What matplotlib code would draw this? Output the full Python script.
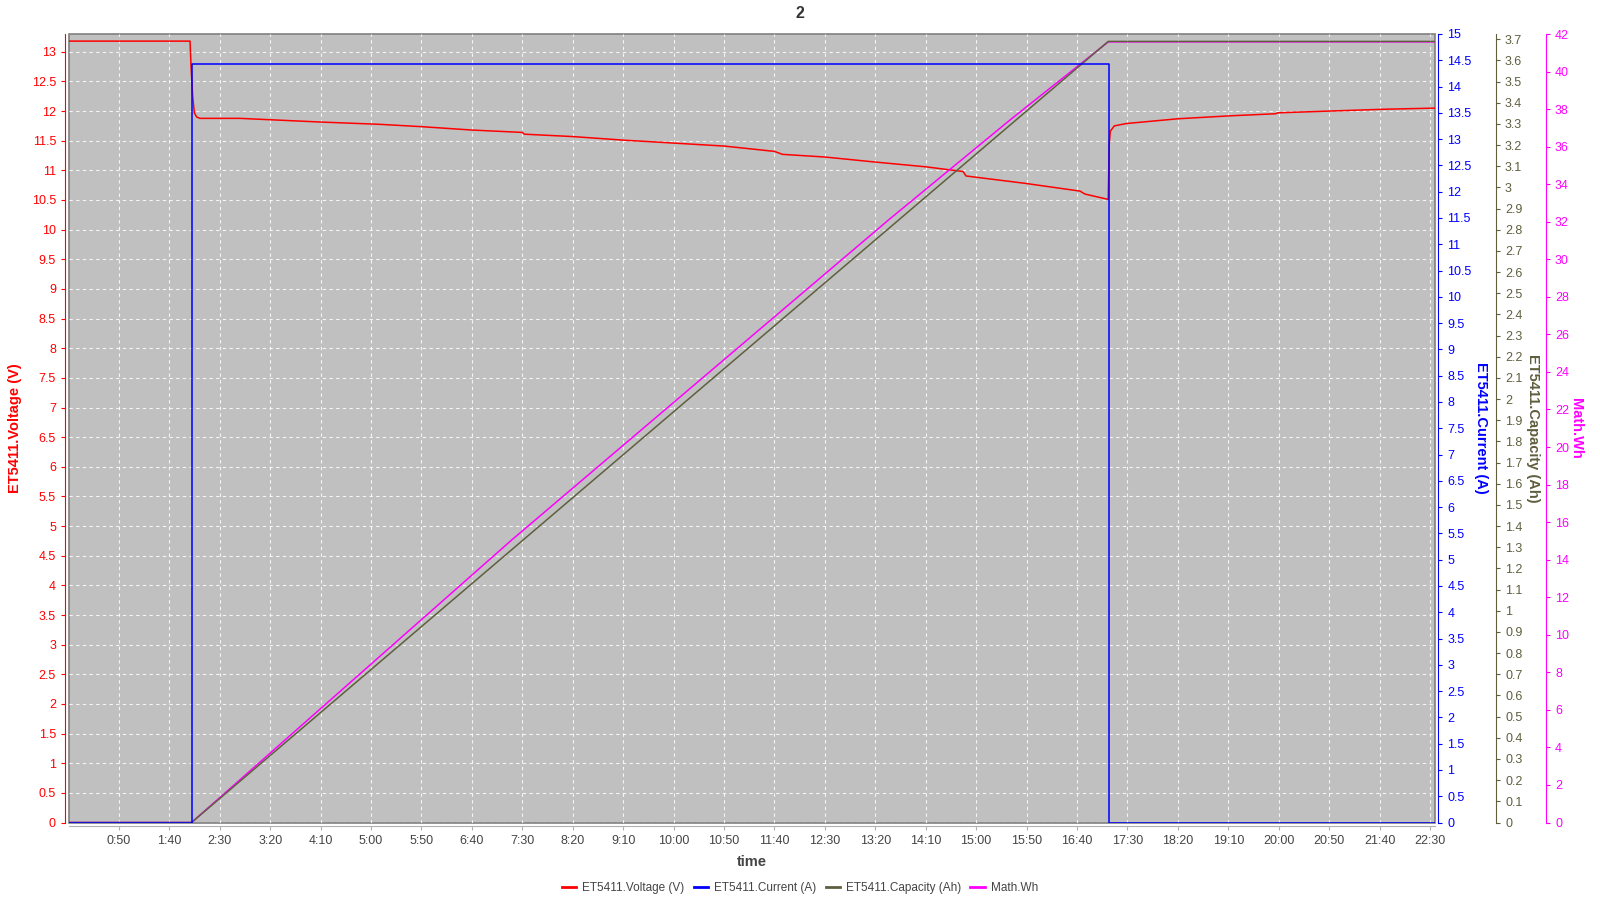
import matplotlib
matplotlib.use("Agg")
import matplotlib.pyplot as plt
from matplotlib.ticker import FuncFormatter, MultipleLocator
from matplotlib.lines import Line2D

plt.rcParams['font.family'] = ['Liberation Sans', 'DejaVu Sans']

# ---- data (time in seconds) ----
volt_t = [0, 120.5, 121.5, 123.1, 124.8, 127.1, 130.4, 170, 250, 309, 350, 400, 450, 452,
          500, 550, 600, 650, 700, 708, 750, 800, 850, 887, 890, 949, 1003, 1008, 1031,
          1032, 1033, 1037, 1049, 1100, 1152, 1197, 1199, 1250, 1303, 1355]
volt_v = [13.18, 13.18, 12.76, 12.25, 11.97, 11.90, 11.877, 11.877, 11.815, 11.776, 11.737,
          11.68, 11.64, 11.61, 11.57, 11.51, 11.46, 11.41, 11.32, 11.27, 11.225, 11.14, 11.06,
          10.98, 10.905, 10.78, 10.65, 10.60, 10.51, 11.45, 11.66, 11.75, 11.79, 11.87, 11.92,
          11.955, 11.97, 12.0, 12.03, 12.05]

curr_t = [0, 122.2, 122.2, 1031.5, 1031.5, 1355]
curr_v = [0, 0, 14.43, 14.43, 0, 0]

cap_t = [0, 122, 1031, 1355]
cap_v = [0, 0, 3.69, 3.69]

wh_t = [0, 122, 439.5, 813, 933.6, 1031, 1355]
wh_v = [0, 0, 15.05, 32.09, 37.42, 41.58, 41.58]

title = "2"
x_label = "time"
labels = ["ET5411.Voltage (V)", "ET5411.Current (A)", "ET5411.Capacity (Ah)", "Math.Wh"]

RED = '#ff0000'
BLUE = '#0000ff'
OLIVE = '#5f5f3f'
MAG = '#ff00ff'
GRAY = '#444444'

fig = plt.figure(figsize=(16, 9), dpi=100)
W, H = 1600, 900
left, right, top, bottom = 68.5, 1435, 34, 822.5
ax = fig.add_axes([left / W, 1 - bottom / H, (right - left) / W, (bottom - top) / H])
ax.set_facecolor('#c0c0c0')
ax.patch.set_edgecolor('#808080')
ax.patch.set_linewidth(1.2)

ax4 = ax.twinx()
ax3 = ax.twinx()
ax2 = ax.twinx()

l1, = ax.plot(volt_t, volt_v, color=RED, lw=1.1, zorder=5)
l2, = ax2.plot(curr_t, curr_v, color=BLUE, lw=1.1)
l3, = ax3.plot(cap_t, cap_v, color=OLIVE, lw=1.1)
l4, = ax4.plot(wh_t, wh_v, color=MAG, lw=1.1)

ax.set_xlim(0, 1355)
ax.set_ylim(0, 13.3)
ax2.set_ylim(0, 15)
ax3.set_ylim(0, 3.725)
ax4.set_ylim(0, 42)

def tfmt(x, pos):
    x = int(round(x))
    return f"{x // 60}:{x % 60:02d}"

def nfmt(x, pos):
    s = f"{x:.1f}"
    if s.endswith('.0'):
        s = s[:-2]
    return s

ax.xaxis.set_major_formatter(FuncFormatter(tfmt))
ax.set_xticks([t for t in range(50, 1355, 50)])
ax.yaxis.set_major_locator(MultipleLocator(0.5))
ax.yaxis.set_major_formatter(FuncFormatter(nfmt))
ax2.yaxis.set_major_locator(MultipleLocator(0.5))
ax2.yaxis.set_major_formatter(FuncFormatter(nfmt))
ax3.yaxis.set_major_locator(MultipleLocator(0.1))
ax3.yaxis.set_major_formatter(FuncFormatter(nfmt))
ax4.yaxis.set_major_locator(MultipleLocator(2))
ax4.yaxis.set_major_formatter(FuncFormatter(nfmt))

ax.grid(True, color='white', linestyle=(0, (3, 3)), linewidth=0.8, alpha=0.85)
ax.set_axisbelow(True)

for a in (ax, ax2, ax3, ax4):
    for s in a.spines.values():
        s.set_visible(False)

ax.spines['left'].set_visible(True)
ax.spines['left'].set_color(RED)
ax.spines['left'].set_position(('outward', 2.5))
ax.spines['bottom'].set_visible(True)
ax.spines['bottom'].set_color('#b0b0b0')
ax.spines['bottom'].set_position(('outward', 2.5))

ax2.spines['right'].set_visible(True)
ax2.spines['right'].set_color(BLUE)
ax2.spines['right'].set_position(('outward', 2.5))
ax3.spines['right'].set_visible(True)
ax3.spines['right'].set_color(OLIVE)
ax3.spines['right'].set_position(('outward', 61 * 0.72))
ax4.spines['right'].set_visible(True)
ax4.spines['right'].set_color(MAG)
ax4.spines['right'].set_position(('outward', 111 * 0.72))

fs = 9
ax.tick_params(axis='x', colors=GRAY, labelsize=fs, length=3, color='#b0b0b0')
ax.tick_params(axis='y', colors=RED, labelsize=fs, length=3)
ax2.tick_params(axis='y', colors=BLUE, labelsize=fs, length=3)
ax3.tick_params(axis='y', colors=OLIVE, labelsize=fs, length=3)
ax4.tick_params(axis='y', colors=MAG, labelsize=fs, length=3)

lfs = 10.5
ax.set_ylabel(labels[0], color=RED, fontsize=lfs, fontweight='bold')
ax.yaxis.set_label_coords(-0.034, 0.5)
ax2.set_ylabel(labels[1], color=BLUE, fontsize=lfs, fontweight='bold', rotation=270, va='center')
ax2.yaxis.set_label_coords(1.0337, 0.5)
ax3.set_ylabel(labels[2], color=OLIVE, fontsize=lfs, fontweight='bold', rotation=270, va='center')
ax3.yaxis.set_label_coords(1.0715, 0.5)
ax4.set_ylabel(labels[3], color=MAG, fontsize=lfs, fontweight='bold', rotation=270, va='center')
ax4.yaxis.set_label_coords(1.1035, 0.5)

ax.set_xlabel(x_label, color=GRAY, fontsize=lfs, fontweight='bold', labelpad=6)
fig.text(0.5, 1 - 13 / H, title, ha='center', va='center',
         fontsize=11.5, fontweight='bold', color='#333333')

handles = [Line2D([0], [0], color=c, lw=2) for c in (RED, BLUE, OLIVE, MAG)]
fig.legend(handles, labels, loc='center', bbox_to_anchor=(0.5, 1 - 888 / H), ncol=4,
           frameon=False, fontsize=8.5, handlelength=1.2, handletextpad=0.5,
           columnspacing=0.8, labelcolor=GRAY)

fig.savefig('out.png', dpi=100)
